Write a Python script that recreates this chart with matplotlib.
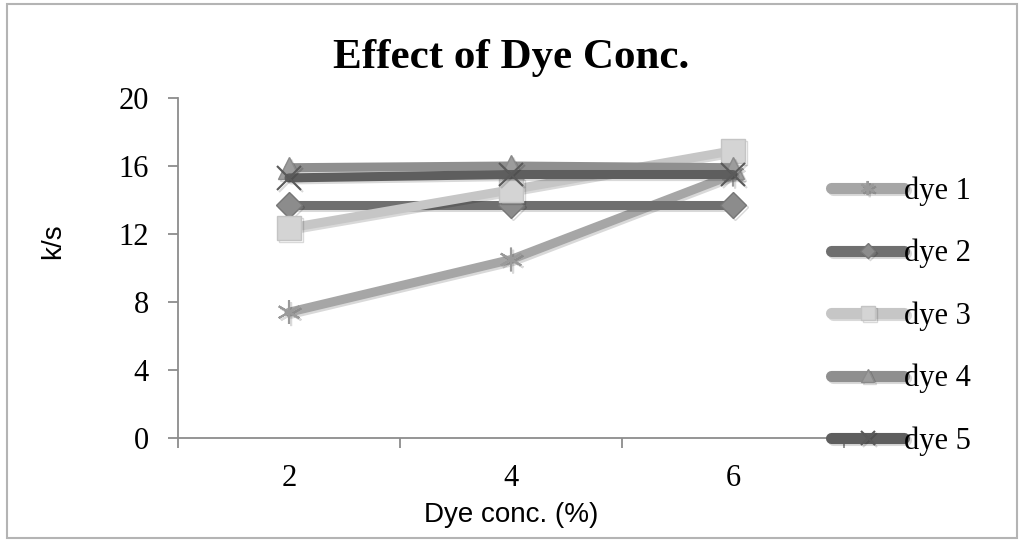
import matplotlib
matplotlib.use("Agg")
import matplotlib.pyplot as plt
from matplotlib.patches import Rectangle
import matplotlib.patheffects as pe

# data
concs = ["2", "4", "6"]
dye1 = [7.4, 10.5, 15.5]
dye2 = [13.7, 13.7, 13.7]
dye3 = [12.35, 14.6, 16.9]
dye4 = [15.9, 16.0, 15.9]
dye5 = [15.3, 15.5, 15.5]
labels = ["dye 1", "dye 2", "dye 3", "dye 4", "dye 5"]

serif = "Liberation Serif"
sans = "Liberation Sans"

fig = plt.figure(figsize=(10.24, 5.5), dpi=100)
ax = fig.add_axes([178 / 1024, 1 - 438 / 550, 666 / 1024, 340 / 550])

styles = [
    dict(color="#a6a6a6", marker=(6, 2, 0), ms=17, mec="#9a9a9a", mew=1.5),
    dict(color="#6f6f6f", marker="D", ms=13, mfc="#8c8c8c", mec="#777777", mew=1),
    dict(color="#c6c6c6", marker="s", ms=17, mfc="#d4d4d4", mec="#c4c4c4", mew=1),
    dict(color="#8f8f8f", marker="^", ms=16, mfc="#9c9c9c", mec="#8a8a8a", mew=1),
    dict(color="#5e5e5e", marker="x", ms=17, mec="#5a5a5a", mew=1.5),
]

x = list(range(len(concs)))
shadow = [pe.SimpleLineShadow(offset=(1.5, -1.5), alpha=0.15), pe.Normal()]
for vals, lab, st in zip([dye1, dye2, dye3, dye4, dye5], labels, styles):
    ax.plot(x, vals, label=lab, lw=6.5, solid_capstyle="round",
            path_effects=shadow, **st)

ax.set_xlim(-0.5, 2.5)
ax.set_ylim(0, 20)
ax.set_yticks([0, 4, 8, 12, 16, 20])
ax.set_xticks(x)
ax.set_xticklabels(concs)
ax.set_xticks([-0.5, 0.5, 1.5, 2.5], minor=True)

for s in ["top", "right"]:
    ax.spines[s].set_visible(False)
for s in ["left", "bottom"]:
    ax.spines[s].set_color("#8c8c8c")
    ax.spines[s].set_linewidth(1.3)

ax.tick_params(axis="y", length=7, width=1.3, color="#8c8c8c", pad=14,
               labelsize=22)
ax.tick_params(axis="x", which="major", length=0, pad=19, labelsize=22)
ax.tick_params(axis="x", which="minor", length=7, width=1.3, color="#8c8c8c")
for t in ax.get_xticklabels() + ax.get_yticklabels():
    t.set_fontfamily(serif)

ax.set_xlabel("Dye conc. (%)", fontsize=20, family=sans, labelpad=6)
ax.set_ylabel("k/s", fontsize=20, family=sans)
ax.yaxis.set_label_coords(-0.168, 0.58)

fig.text(511 / 1024, 1 - 58 / 550, "Effect of Dye Conc.", ha="center",
         va="center", fontsize=31, fontweight="bold", family=serif)

leg = fig.legend(loc="center left", bbox_to_anchor=(831 / 1024, 1 - 316 / 550),
                 frameon=False, borderpad=0, borderaxespad=0,
                 handlelength=2.4, handletextpad=0.0, labelspacing=1.08,
                 markerscale=0.6, prop={"family": serif, "size": 22})
for h in leg.legend_handles:
    h.set_linewidth(8)

fig.add_artist(Rectangle((7 / 1024, 1 - 538 / 550), 1010 / 1024, 534 / 550,
                         transform=fig.transFigure, fill=False,
                         ec="#b4b4b4", lw=1.5))

fig.savefig("out.png", dpi=100)
